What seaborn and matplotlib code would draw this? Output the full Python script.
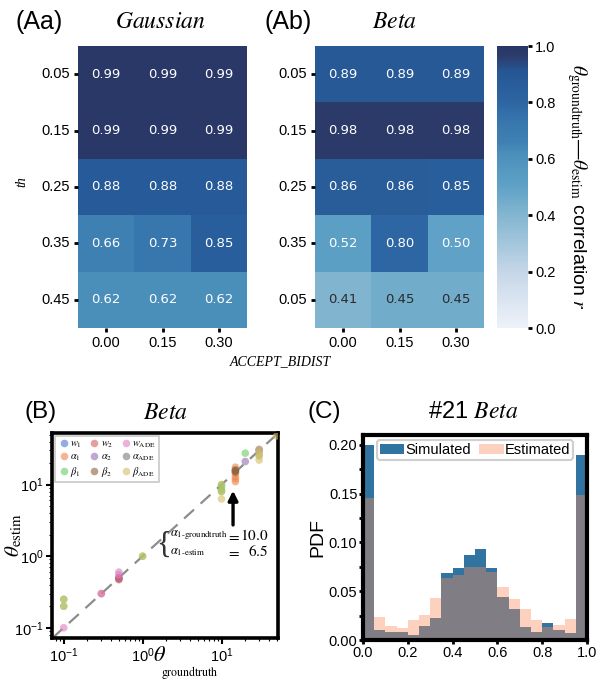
import numpy as np
import pandas as pd
import matplotlib
matplotlib.use("Agg")
import matplotlib.pyplot as plt
import matplotlib.ticker as mticker
from matplotlib.colors import LinearSegmentedColormap
from matplotlib.patches import Patch
import seaborn as sns

# ---------------- data ----------------
accept_bidist = ["0.00", "0.15", "0.30"]
th_gauss = ["0.05", "0.15", "0.25", "0.35", "0.45"]
th_beta = ["0.05", "0.15", "0.25", "0.35", "0.05"]
corr_gauss = [[0.99, 0.99, 0.99],
              [0.99, 0.99, 0.99],
              [0.88, 0.88, 0.88],
              [0.66, 0.73, 0.85],
              [0.62, 0.62, 0.62]]
corr_beta = [[0.89, 0.89, 0.89],
             [0.98, 0.98, 0.98],
             [0.86, 0.86, 0.85],
             [0.52, 0.80, 0.50],
             [0.41, 0.45, 0.45]]

param_order = [r"$w_1$", r"$\alpha_1$", r"$\beta_1$",
               r"$w_2$", r"$\alpha_2$", r"$\beta_2$",
               r"$w_{\rm ADE}$", r"$\alpha_{\rm ADE}$", r"$\beta_{\rm ADE}$"]
sc_param = ([r"$w_1$"] * 2 + [r"$w_2$"] * 3 + [r"$w_{\rm ADE}$"] * 4
            + [r"$\alpha_1$"] * 6 + [r"$\alpha_2$"] * 3 + [r"$\alpha_{\rm ADE}$"] * 1
            + [r"$\beta_1$"] * 9 + [r"$\beta_2$"] * 2 + [r"$\beta_{\rm ADE}$"] * 11)
sc_groundtruth = [0.5, 0.5,
                  0.5, 0.5, 0.3,
                  0.1, 0.3, 0.5, 0.5,
                  15, 15, 15, 15, 15, 15,
                  20, 30, 30,
                  15,
                  10, 10, 10, 10, 20, 30, 0.1, 0.1, 1.0,
                  15, 15,
                  10, 10, 10, 30, 30, 30, 30, 50, 0.1, 0.1, 1.0]
sc_estim = [0.5, 0.48,
            0.5, 0.47, 0.3,
            0.1, 0.3, 0.6, 0.55,
            17.5, 16, 14.5, 13, 12, 11,
            21, 30, 31,
            15.5,
            10, 9.3, 8.5, 8, 27.5, 26, 0.2, 0.25, 1.0,
            15, 16,
            10, 8, 6.3, 31, 28, 25, 22, 48, 0.2, 0.25, 1.0]

bin_edges = [0.0, 0.05, 0.1, 0.15, 0.2, 0.25, 0.3, 0.35, 0.4, 0.45, 0.5,
             0.55, 0.6, 0.65, 0.7, 0.75, 0.8, 0.85, 0.9, 0.95, 1.0]
bin_centers = [0.025, 0.075, 0.125, 0.175, 0.225, 0.275, 0.325, 0.375, 0.425, 0.475,
               0.525, 0.575, 0.625, 0.675, 0.725, 0.775, 0.825, 0.875, 0.925, 0.975]
sim_pdf = [0.200, 0.010, 0.008, 0.0085, 0.005, 0.014, 0.023, 0.069, 0.074, 0.087,
           0.093, 0.074, 0.044, 0.032, 0.013, 0.008, 0.017, 0.010, 0.0075, 0.190]
est_pdf = [0.145, 0.024, 0.014, 0.0125, 0.0205, 0.026, 0.043, 0.064, 0.067, 0.075,
           0.075, 0.070, 0.054, 0.042, 0.032, 0.020, 0.013, 0.015, 0.0215, 0.149]

# ---------------- style ----------------
plt.rcParams["font.family"] = ["Liberation Sans", "DejaVu Sans"]
plt.rcParams["mathtext.fontset"] = "stix"
plt.rcParams["axes.unicode_minus"] = True

W, H = 611, 681
fig = plt.figure(figsize=(W / 100, H / 100), dpi=100)


def box(l, t, r, b):
    return [l / W, 1 - b / H, (r - l) / W, (b - t) / H]


cmap = LinearSegmentedColormap.from_list("corr", [
    (0.00, "#eef2f9"), (0.20, "#c5d6e8"), (0.30, "#a3c6dc"), (0.41, "#80b4cf"),
    (0.50, "#60a2c7"), (0.62, "#4a8fba"), (0.66, "#3f80b3"), (0.73, "#3877ad"),
    (0.80, "#2d66a3"), (0.88, "#275a98"), (0.91, "#265795"), (0.95, "#2a4478"),
    (0.97, "#2b3b6a"), (1.00, "#2a3766")])

axAa = fig.add_axes(box(78, 46, 247, 328))
axAb = fig.add_axes(box(315, 46, 484, 328))
cax = fig.add_axes(box(497, 46, 528, 328))

common = dict(cmap=cmap, vmin=0, vmax=1, annot=True, fmt=".2f",
              annot_kws=dict(fontsize=9.5, family="DejaVu Sans"))
sns.heatmap(np.array(corr_gauss), ax=axAa, cbar=False,
            xticklabels=accept_bidist, yticklabels=th_gauss, **common)
sns.heatmap(np.array(corr_beta), ax=axAb, cbar=True, cbar_ax=cax,
            xticklabels=accept_bidist, yticklabels=th_beta, **common)

for ax in (axAa, axAb):
    ax.tick_params(length=3, width=2, labelsize=10.5, pad=3, color="black")
    ax.set_yticklabels(ax.get_yticklabels(), rotation=0)
    ax.set_xticklabels(ax.get_xticklabels(), rotation=0)
    for t in ax.texts:
        t.set_color("#2b2b2b" if float(t.get_text()) < 0.47 else "white")

cbar = axAb.collections[0].colorbar
cbar.outline.set_visible(False)
cbar.set_ticks([0, 0.2, 0.4, 0.6, 0.8, 1.0])
cax.tick_params(length=3, width=2, labelsize=10.5, pad=2)
cax.set_ylabel(r"$\theta_{\rm groundtruth}$—$\theta_{\rm estim}$ correlation $r$",
               rotation=270, fontsize=14, labelpad=24)

fig.text(39 / W, 1 - 22 / H, "(Aa)", fontsize=18, ha="center", va="center")
fig.text(288 / W, 1 - 22 / H, "(Ab)", fontsize=18, ha="center", va="center")
fig.text(160 / W, 1 - 22 / H, r"$Gaussian$", fontsize=17, ha="center", va="center")
fig.text(394 / W, 1 - 22 / H, r"$Beta$", fontsize=17, ha="center", va="center")
fig.text(280 / W, 1 - 362 / H, "ACCEPT_BIDIST", fontsize=10, family="Liberation Serif",
         style="italic", ha="center", va="center")
fig.text(22 / W, 1 - 182 / H, "th", fontsize=10, family="Liberation Serif",
         style="italic", ha="center", va="center", rotation=90)

# ---------------- panel B ----------------
axB = fig.add_axes(box(52, 433, 278, 638))
df_sc = pd.DataFrame({"gt": sc_groundtruth, "est": sc_estim, "param": sc_param})
axB.set_xscale("log")
axB.set_yscale("log")
sns.scatterplot(data=df_sc, x="gt", y="est", hue="param", hue_order=param_order,
                palette="muted", alpha=0.6, s=30, linewidth=0, ax=axB, zorder=3)
axB.axline((0.1, 0.1), (10, 10), color="#8c8c8c", lw=1.6, ls=(0, (6, 4)), zorder=2)
axB.set_xlim(0.071, 52)
axB.set_ylim(0.072, 52.6)
for s in axB.spines.values():
    s.set_linewidth(2.6)
axB.tick_params(which="major", length=4, width=1.5, labelsize=10.5, pad=2)
axB.tick_params(which="minor", length=2, width=0.8)
# x label: large theta with a small serif subscript, as in the reference
axB.set_xlabel("")
axB.text((153 - 52) / 226, -(645 - 638) / 205, r"$\theta$", fontsize=16,
         transform=axB.transAxes, ha="left", va="top")
axB.text((161 - 52) / 226, -(664 - 638) / 205, r"$\rm groundtruth$", fontsize=8.5,
         transform=axB.transAxes, ha="left", va="top")
axB.set_ylabel(r"$\theta_{\rm estim}$", fontsize=15)
axB.yaxis.set_label_coords(-0.125, 0.5)
leg = axB.legend(loc="upper left", ncol=3, fontsize=7.5, labelspacing=0.15,
                 columnspacing=0.6, handletextpad=0.0, handlelength=1.2,
                 borderpad=0.3, borderaxespad=0.25, fancybox=False,
                 edgecolor="#c8c8c8", framealpha=1)
leg.get_frame().set_linewidth(1.2)

axB.annotate("", xy=(14, 9.0), xytext=(14, 2.5),
             arrowprops=dict(arrowstyle="-|>", color="black", lw=2.4, mutation_scale=14))
axB.text(1.5, 1.42, "{", fontsize=22, family="Liberation Serif", fontweight="light",
         ha="left", va="center", color="#333333")
axB.text(2.2, 1.94, "$\\alpha_{\\rm 1\u2010groundtruth}$", fontsize=9,
         ha="left", va="center")
axB.text(2.2, 1.15, "$\\alpha_{\\rm 1\u2010estim}$", fontsize=9, ha="left", va="center")
axB.text(14.0, 1.94, r"$=$", fontsize=11, ha="center", va="center")
axB.text(14.0, 1.15, r"$=$", fontsize=11, ha="center", va="center")
axB.text(39, 1.94, r"$10.0$", fontsize=11, ha="right", va="center")
axB.text(39, 1.15, r"$6.5$", fontsize=11, ha="right", va="center")

fig.text(41 / W, 1 - 412 / H, "(B)", fontsize=17.5, ha="center", va="center")
fig.text(165 / W, 1 - 413 / H, r"$Beta$", fontsize=17, ha="center", va="center")

# ---------------- panel C ----------------
axC = fig.add_axes(box(363, 435, 587, 640))
sim_color = "#3274a1"
est_color = "#fa8c5a"
sns.histplot(x=bin_centers, weights=sim_pdf, bins=bin_edges, color=sim_color,
             alpha=1, linewidth=0, ax=axC)
sns.histplot(x=bin_centers, weights=est_pdf, bins=bin_edges, color=est_color,
             alpha=0.4, linewidth=0, ax=axC)
axC.set_xlim(0, 1)
axC.set_ylim(0, 0.21)
axC.set_yticks([0, 0.05, 0.10, 0.15, 0.20])
axC.yaxis.set_major_formatter(mticker.FormatStrFormatter("%.2f"))
axC.yaxis.set_minor_locator(mticker.MultipleLocator(0.025))
axC.set_xticks([0, 0.2, 0.4, 0.6, 0.8, 1.0])
axC.xaxis.set_major_formatter(mticker.FormatStrFormatter("%.1f"))
for s in axC.spines.values():
    s.set_linewidth(3)
axC.tick_params(which="major", length=3, width=2, labelsize=10.5, pad=1)
axC.tick_params(which="minor", length=3, width=2)
axC.set_ylabel("PDF", fontsize=14, labelpad=2)
axC.set_xlabel("")
legC = axC.legend([Patch(facecolor=sim_color), Patch(facecolor=est_color, alpha=0.4)],
                  ["Simulated", "Estimated"], loc="upper center", ncol=2, fontsize=10.5,
                  handlelength=1.7, handleheight=0.6, handletextpad=0.1, columnspacing=0.5,
                  borderpad=0.2, borderaxespad=0.35, fancybox=True, edgecolor="#cfcfcf",
                  framealpha=1)
legC.get_frame().set_linewidth(1.5)

fig.text(324 / W, 1 - 412 / H, "(C)", fontsize=17.5, ha="center", va="center")
fig.text(473 / W, 1 - 412 / H, r"#21 $Beta$", fontsize=17, ha="center", va="center")

fig.savefig("out.png", dpi=100)
